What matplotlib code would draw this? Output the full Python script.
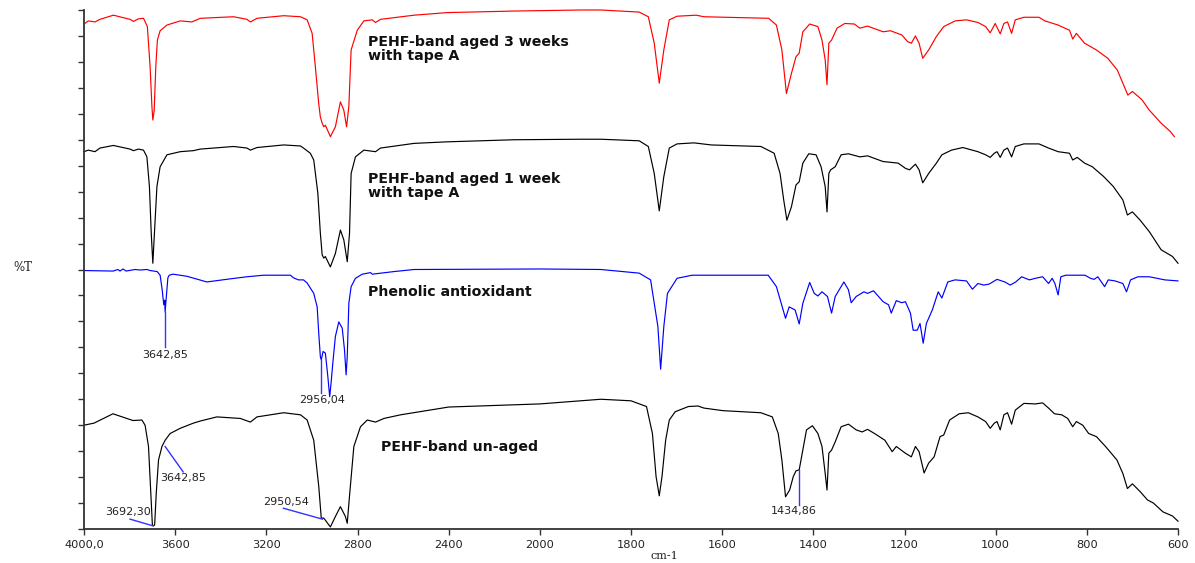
import numpy as np
import matplotlib
matplotlib.use("Agg")
import matplotlib.pyplot as plt

# ---------------- data (wavenumber cm-1, %T on an arbitrary 0-100 stacked scale) ----------------
aged_3w = [(4000, 97.3), (3981, 97.9), (3952, 97.7), (3930, 98.2), (3871, 99.0), (3798, 98.2), (3783, 97.8),
           (3761, 98.3), (3739, 98.4), (3722, 96.8), (3710, 89.1), (3702, 81.4), (3698, 78.8), (3692, 80.7),
           (3685, 89.1), (3678, 94.2), (3666, 96.0), (3636, 97.1), (3578, 97.9), (3527, 97.7), (3490, 98.4),
           (3344, 98.7), (3285, 98.2), (3270, 97.7), (3241, 98.4), (3124, 98.9), (3050, 98.7), (3021, 98.1),
           (2999, 95.5), (2985, 89.1), (2970, 81.9), (2963, 79.4), (2955, 78.2), (2948, 77.5), (2941, 77.8),
           (2919, 75.6), (2897, 77.5), (2875, 82.3), (2860, 80.7), (2848, 77.5), (2838, 81.4), (2828, 92.3),
           (2801, 96.1), (2772, 97.9), (2735, 98.1), (2721, 97.6), (2699, 98.2), (2552, 99.0), (2406, 99.5),
           (2113, 99.8), (1910, 100.0), (1866, 100.0), (1782, 99.6), (1762, 98.7), (1749, 93.6), (1738, 85.9),
           (1728, 92.3), (1716, 98.1), (1699, 98.8), (1657, 99.0), (1640, 98.7), (1498, 98.4), (1481, 97.1),
           (1469, 92.3), (1459, 83.9), (1448, 87.8), (1438, 91.0), (1431, 91.7), (1423, 95.8), (1408, 97.3),
           (1390, 96.8), (1381, 94.2), (1374, 90.4), (1370, 85.6), (1366, 93.6), (1360, 94.2), (1348, 96.5),
           (1331, 97.4), (1310, 97.3), (1298, 96.5), (1281, 96.9), (1247, 95.8), (1231, 96.0), (1206, 95.2),
           (1193, 93.9), (1185, 93.6), (1176, 95.0), (1168, 93.6), (1160, 90.7), (1147, 92.3), (1130, 94.9),
           (1114, 96.8), (1089, 97.9), (1064, 98.1), (1039, 97.6), (1022, 96.8), (1012, 95.6), (1001, 97.4),
           (990, 95.4), (982, 97.4), (974, 97.7), (965, 95.5), (957, 98.1), (938, 98.6), (905, 98.6),
           (892, 97.9), (863, 97.1), (838, 96.1), (831, 94.4), (823, 95.5), (805, 93.6), (779, 92.3),
           (754, 90.7), (733, 88.4), (721, 85.9), (710, 83.6), (700, 84.3), (679, 82.7), (663, 80.7),
           (637, 78.2), (617, 76.6), (608, 75.6)]

aged_1w = [(4000, 72.7), (3981, 73.0), (3952, 72.7), (3930, 73.4), (3871, 73.9), (3798, 73.2), (3783, 72.9),
           (3761, 73.2), (3739, 73.0), (3724, 71.7), (3713, 66.0), (3705, 57.0), (3698, 51.2), (3691, 57.0),
           (3680, 66.0), (3666, 69.8), (3636, 72.1), (3578, 72.7), (3520, 72.9), (3490, 73.2), (3344, 73.7),
           (3285, 73.4), (3270, 73.0), (3241, 73.5), (3124, 74.0), (3050, 73.8), (3037, 73.4), (3007, 72.4),
           (2992, 71.1), (2974, 64.7), (2963, 57.0), (2955, 52.8), (2948, 52.2), (2941, 52.5), (2919, 50.5),
           (2897, 53.1), (2875, 57.6), (2860, 55.7), (2845, 51.5), (2835, 57.0), (2828, 68.5), (2809, 71.7),
           (2772, 73.0), (2721, 72.7), (2699, 73.4), (2552, 74.3), (2406, 74.6), (2113, 75.0), (1910, 75.1),
           (1866, 75.1), (1782, 74.8), (1762, 73.7), (1749, 68.5), (1738, 61.3), (1728, 67.9), (1716, 73.4),
           (1699, 74.2), (1662, 74.4), (1624, 74.0), (1515, 73.7), (1486, 72.4), (1473, 68.5), (1465, 63.4),
           (1458, 59.5), (1448, 62.1), (1438, 66.3), (1431, 66.9), (1423, 70.5), (1410, 72.3), (1394, 72.1),
           (1383, 69.8), (1374, 66.0), (1370, 61.1), (1366, 68.5), (1362, 69.2), (1352, 69.8), (1339, 72.1),
           (1323, 72.3), (1298, 71.7), (1281, 71.9), (1247, 70.8), (1214, 70.5), (1198, 69.5), (1189, 69.2),
           (1176, 70.3), (1168, 69.2), (1160, 66.7), (1147, 68.5), (1130, 70.5), (1118, 72.1), (1097, 73.0),
           (1072, 73.5), (1039, 72.7), (1022, 72.1), (1012, 71.6), (1003, 72.4), (997, 72.7), (990, 71.6),
           (982, 73.0), (974, 73.4), (965, 71.7), (957, 73.7), (938, 74.2), (905, 74.2), (884, 73.4),
           (863, 72.7), (838, 72.4), (831, 71.1), (821, 71.6), (805, 70.5), (788, 69.8), (763, 67.9),
           (742, 66.0), (721, 63.4), (711, 60.5), (700, 61.1), (683, 59.5), (663, 57.3), (637, 53.8),
           (612, 52.5), (600, 51.2)]

phenolic = [(4000, 49.8), (3872, 49.7), (3851, 50.0), (3842, 49.7), (3829, 50.1), (3815, 49.7), (3776, 50.0),
            (3754, 49.9), (3723, 50.0), (3710, 49.8), (3679, 49.6), (3666, 48.9), (3657, 46.1), (3650, 43.2),
            (3646, 44.1), (3644, 41.8), (3640, 44.1), (3632, 48.4), (3626, 48.9), (3609, 49.1), (3549, 48.7),
            (3461, 47.6), (3358, 48.2), (3285, 48.6), (3213, 48.9), (3094, 48.9), (3081, 48.4), (3059, 48.0),
            (3037, 48.0), (3021, 47.4), (2992, 45.4), (2977, 42.8), (2970, 37.7), (2963, 33.2), (2959, 32.6),
            (2951, 34.2), (2941, 33.9), (2930, 29.3), (2922, 25.5), (2916, 28.1), (2907, 32.6), (2897, 37.1),
            (2882, 39.9), (2867, 38.7), (2857, 34.5), (2850, 29.7), (2845, 33.2), (2838, 43.5), (2828, 46.7),
            (2809, 48.3), (2779, 49.1), (2743, 49.4), (2735, 49.1), (2640, 49.6), (2552, 50.0), (2000, 50.1),
            (1866, 50.0), (1782, 49.3), (1757, 48.0), (1741, 39.0), (1735, 30.8), (1728, 39.0), (1720, 45.4),
            (1699, 48.3), (1666, 48.9), (1499, 48.9), (1481, 46.7), (1461, 40.6), (1453, 42.8), (1440, 42.2),
            (1431, 39.5), (1423, 43.5), (1408, 47.5), (1398, 45.4), (1390, 44.9), (1381, 45.7), (1369, 44.8),
            (1360, 41.6), (1352, 44.8), (1333, 47.6), (1323, 46.1), (1317, 43.6), (1306, 44.8), (1289, 45.7),
            (1281, 45.4), (1268, 45.9), (1247, 43.8), (1235, 43.2), (1229, 41.6), (1218, 44.0), (1206, 43.6),
            (1198, 43.8), (1187, 41.6), (1181, 38.3), (1172, 38.3), (1166, 39.6), (1159, 35.8), (1152, 39.6),
            (1139, 42.2), (1126, 45.7), (1118, 44.5), (1105, 47.6), (1089, 48.0), (1064, 47.8), (1051, 46.2),
            (1039, 47.3), (1026, 47.0), (1014, 47.2), (997, 48.1), (980, 47.6), (968, 47.0), (956, 47.6),
            (943, 48.6), (926, 48.0), (913, 48.3), (897, 48.6), (884, 47.3), (876, 48.3), (870, 47.3),
            (863, 45.1), (857, 48.6), (846, 48.9), (804, 48.9), (792, 48.3), (784, 48.1), (776, 48.6),
            (761, 46.7), (753, 48.0), (738, 47.8), (721, 47.3), (713, 45.7), (704, 48.0), (688, 48.6),
            (663, 48.6), (629, 48.0), (600, 47.8)]

unaged = [(4000, 20.0), (3956, 20.4), (3873, 22.2), (3785, 20.9), (3746, 21.0), (3732, 20.0), (3717, 15.9),
          (3707, 6.9), (3700, 0.8), (3695, 0.6), (3690, 0.8), (3683, 6.9), (3673, 13.3), (3658, 15.9),
          (3644, 17.1), (3622, 18.4), (3578, 19.4), (3520, 20.4), (3490, 20.8), (3417, 21.6), (3314, 21.3),
          (3270, 20.6), (3241, 21.6), (3124, 22.4), (3050, 22.0), (3021, 21.0), (2992, 17.1), (2970, 8.2),
          (2959, 2.1), (2948, 2.1), (2919, 0.4), (2897, 2.4), (2875, 4.3), (2853, 2.4), (2845, 1.1),
          (2834, 6.9), (2816, 15.9), (2787, 19.7), (2757, 21.0), (2721, 20.6), (2684, 21.3), (2611, 22.0),
          (2400, 23.5), (2000, 24.1), (1866, 25.0), (1800, 24.7), (1766, 23.6), (1753, 18.4), (1745, 10.1),
          (1738, 6.4), (1732, 10.1), (1724, 17.1), (1716, 21.0), (1703, 22.6), (1674, 23.6), (1653, 23.7),
          (1640, 23.3), (1598, 22.8), (1515, 22.4), (1490, 21.6), (1477, 18.4), (1469, 13.3), (1461, 6.2),
          (1452, 7.5), (1444, 10.1), (1438, 11.2), (1431, 11.4), (1423, 15.2), (1415, 19.1), (1402, 19.9),
          (1390, 18.4), (1381, 15.9), (1374, 10.7), (1370, 7.5), (1366, 14.6), (1360, 15.2), (1352, 16.8),
          (1339, 19.7), (1323, 20.2), (1306, 19.1), (1293, 18.7), (1281, 19.2), (1264, 18.3), (1243, 17.1),
          (1227, 14.9), (1218, 15.9), (1198, 14.6), (1185, 13.9), (1176, 15.9), (1168, 14.9), (1157, 10.8),
          (1147, 12.7), (1135, 13.9), (1122, 17.8), (1114, 18.1), (1101, 21.0), (1080, 22.2), (1060, 22.4),
          (1039, 21.6), (1022, 20.7), (1012, 19.4), (1003, 20.4), (997, 20.7), (990, 19.1), (982, 22.0),
          (974, 22.4), (965, 20.2), (957, 22.9), (938, 24.2), (913, 24.1), (897, 24.3), (884, 23.3),
          (871, 22.2), (855, 22.0), (842, 21.3), (831, 19.7), (823, 20.7), (809, 20.0), (796, 18.4),
          (779, 17.8), (759, 15.9), (734, 13.3), (721, 10.7), (711, 7.8), (700, 8.7), (683, 7.2),
          (667, 5.6), (654, 5.0), (633, 3.3), (612, 2.5), (600, 1.5)]

series_labels = ["PEHF-band aged 3 weeks\nwith tape A", "PEHF-band aged 1 week\nwith tape A",
                 "Phenolic antioxidant", "PEHF-band un-aged"]
series_colors = ["#ff0000", "#000000", "#0000ff", "#000000"]

x_ticks = [4000, 3600, 3200, 2800, 2400, 2000, 1800, 1600, 1400, 1200, 1000, 800, 600]
x_tick_labels = ["4000,0", "3600", "3200", "2800", "2400", "2000", "1800", "1600", "1400",
                 "1200", "1000", "800", "600"]

# peak annotations: (label, line start (wn, T), line end (wn, T), text centre (wn, T))
peak_notes = [
    ("3642,85", (3644, 41.8), (3644, 35.1), (3644, 33.5)),
    ("2956,04", (2959, 32.6), (2959, 26.2), (2957, 24.9)),
    ("3692,30", (3798, 1.9), (3697, 0.6), (3807, 3.3)),
    ("3642,85", (3644, 15.9), (3565, 11.0), (3565, 9.8)),
    ("2950,54", (3125, 4.0), (2954, 1.9), (3112, 5.2)),
    ("1434,86", (1431, 11.4), (1431, 4.6), (1442, 3.5)),
]

# ---------------- figure ----------------
W, H = 1195, 563
fig = plt.figure(figsize=(W / 100, H / 100), dpi=100)
ax = fig.add_axes([84 / W, 34 / H, (1178 - 84) / W, (529 - 10) / H])


def fwd(w):
    w = np.asarray(w, dtype=float)
    return np.where(w >= 2000, 1000 + (w - 2000) / 2.0, w - 1000)


def inv(u):
    u = np.asarray(u, dtype=float)
    return np.where(u >= 1000, 2000 + 2.0 * (u - 1000), u + 1000)


ax.set_xscale("function", functions=(fwd, inv))
ax.set_xlim(4000, 600)
ax.set_ylim(0, 100)

for data, col in zip([aged_3w, aged_1w, phenolic, unaged], series_colors):
    arr = np.array(data, dtype=float)
    ax.plot(arr[:, 0], arr[:, 1], color=col, lw=0.85, solid_joinstyle="round", clip_on=False)

# series labels
label_pos = [(2752, 92.5), (2752, 66.0), (2756, 45.7), (2699, 15.8)]
for txt, (wx, ty) in zip(series_labels, label_pos):
    ax.text(wx, ty, txt, fontsize=10.2, fontweight="bold", family="DejaVu Sans",
            ha="left", va="center", linespacing=1.0, color="#111111")

# peak annotations
for txt, p0, p1, pt in peak_notes:
    ax.plot([p0[0], p1[0]], [p0[1], p1[1]], color="#3333ff", lw=1.0, clip_on=False)
    ax.text(pt[0], pt[1], txt, fontsize=8, family="DejaVu Sans", ha="center", va="center",
            color="#222222")

# axes styling
for s in ("top", "right"):
    ax.spines[s].set_visible(False)
for s in ("left", "bottom"):
    ax.spines[s].set_color("#333333")
    ax.spines[s].set_linewidth(1.3)

ax.set_xticks(x_ticks)
ax.set_xticklabels(x_tick_labels)
ax.minorticks_off()
ax.set_yticks(np.arange(0, 101, 5))
ax.set_yticklabels([])
ax.tick_params(axis="x", direction="out", length=4, width=1, color="#333333",
               labelsize=8.2, labelcolor="#222222", pad=4)
ax.tick_params(axis="y", direction="out", length=4, width=1, color="#333333")

fig.text(23 / W, 1 - 267 / H, "%T", family="DejaVu Serif", fontsize=8.5, ha="center", va="center",
         color="#222222")
fig.text(664 / W, 1 - 556 / H, "cm-1", family="DejaVu Serif", fontsize=8, ha="center", va="center",
         color="#222222")

fig.savefig("out.png", dpi=100, facecolor="white")
